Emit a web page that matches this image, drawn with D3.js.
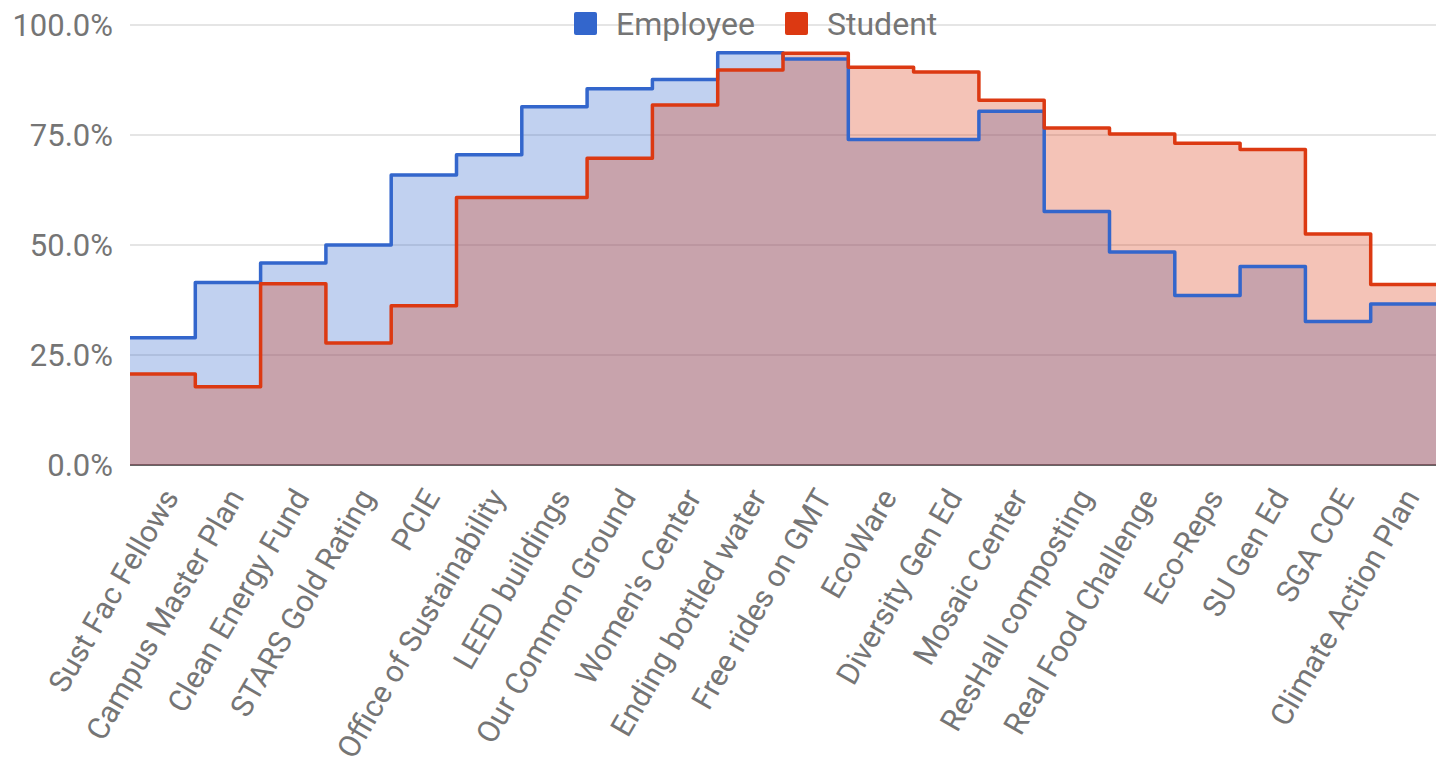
<!DOCTYPE html>
<html>
<head>
<meta charset="utf-8">
<script src="https://cdn.jsdelivr.net/npm/d3@7"></script>
<style>
  html, body { margin: 0; padding: 0; background: #fff; }
  svg { display: block; font-family: Roboto, "Noto Sans", Arial, sans-serif; }
</style>
</head>
<body>
<svg id="chart" width="1447" height="770"></svg>
<script>
// Share of respondents aware of each campus initiative, by group (%)
const categories = [
  "Sust Fac Fellows", "Campus Master Plan", "Clean Energy Fund", "STARS Gold Rating",
  "PCIE", "Office of Sustainability", "LEED buildings", "Our Common Ground",
  "Women's Center", "Ending bottled water", "Free rides on GMT", "EcoWare",
  "Diversity Gen Ed", "Mosaic Center", "ResHall composting", "Real Food Challenge",
  "Eco-Reps", "SU Gen Ed", "SGA COE", "Climate Action Plan"
];
const employeeValues = [28.9, 41.5, 45.9, 50.0, 65.9, 70.5, 81.4, 85.5, 87.6, 93.7,
                        92.3, 74.0, 74.0, 80.4, 57.6, 48.4, 38.5, 45.1, 32.6, 36.6];
const studentValues  = [20.7, 17.8, 41.2, 27.7, 36.2, 60.8, 60.8, 69.7, 81.8, 89.8,
                        93.6, 90.4, 89.3, 82.9, 76.6, 75.2, 73.1, 71.7, 52.5, 41.0];
const seriesNames = ["Employee", "Student"];
const seriesColors = ["#3366cc", "#dc3912"];
const yTicks = [0, 25, 50, 75, 100];

const svg = d3.select("#chart");
const plotLeft = 130, plotRight = 1436, plotTop = 25, plotBottom = 465;
const textColor = "#757575";

const x = d3.scaleBand().domain(categories).range([plotLeft, plotRight]).padding(0);
const y = d3.scaleLinear().domain([0, 100]).range([plotBottom, plotTop]);

// gridlines
svg.append("g").selectAll("line").data(yTicks.filter(d => d !== 0)).join("line")
  .attr("x1", plotLeft).attr("x2", plotRight)
  .attr("y1", d => y(d)).attr("y2", d => y(d))
  .attr("stroke", "#cccccc").attr("stroke-width", 1.2);

// baseline
svg.append("line")
  .attr("x1", plotLeft).attr("x2", plotRight)
  .attr("y1", y(0)).attr("y2", y(0))
  .attr("stroke", "#333333").attr("stroke-width", 1.5);

// each category holds its value across its whole band; close the last band at the range end
function stepPoints(values) {
  const pts = values.map((v, i) => [x(categories[i]), v]);
  pts.push([x.range()[1], values[values.length - 1]]);
  return pts;
}

const area = d3.area()
  .x(d => d[0]).y0(y(0)).y1(d => y(d[1]))
  .curve(d3.curveStepAfter);
const line = d3.line()
  .x(d => d[0]).y(d => y(d[1]))
  .curve(d3.curveStepAfter);

const series = [employeeValues, studentValues];

series.forEach((vals, i) => {
  svg.append("path")
    .attr("d", area(stepPoints(vals)))
    .attr("fill", seriesColors[i])
    .attr("fill-opacity", 0.3);
});
series.forEach((vals, i) => {
  svg.append("path")
    .attr("d", line(stepPoints(vals)))
    .attr("fill", "none")
    .attr("stroke", seriesColors[i])
    .attr("stroke-width", 3.5)
    .attr("stroke-linejoin", "round");
});

// y-axis labels
svg.append("g").selectAll("text").data(yTicks).join("text")
  .attr("x", 113).attr("y", d => y(d))
  .attr("dy", "0.36em")
  .attr("text-anchor", "end")
  .attr("font-size", 31)
  .attr("fill", textColor)
  .text(d => d3.format(".1f")(d) + "%");

// category labels, slanted
svg.append("g").selectAll("text").data(categories).join("text")
  .attr("transform", d => `translate(${x(d) + x.bandwidth() / 2 + 17},497) rotate(-60)`)
  .attr("text-anchor", "end")
  .attr("font-size", 30.5)
  .attr("fill", textColor)
  .text(d => d);

// legend
const legendX = [574, 785];
const legend = svg.append("g");
seriesNames.forEach((name, i) => {
  legend.append("rect")
    .attr("x", legendX[i]).attr("y", 12)
    .attr("width", 23).attr("height", 23).attr("rx", 2)
    .attr("fill", seriesColors[i]);
  legend.append("text")
    .attr("x", legendX[i] + 42).attr("y", 35)
    .attr("font-size", 32)
    .attr("fill", textColor)
    .text(name);
});
</script>
</body>
</html>
